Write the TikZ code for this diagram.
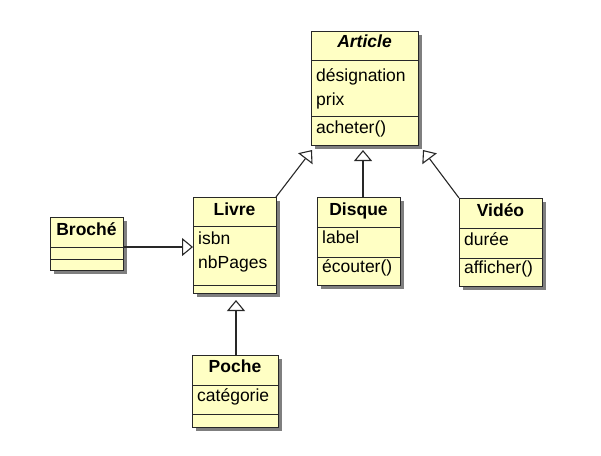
\documentclass[tikz,border=0pt]{standalone}
\usepackage{fontspec}
\setmainfont{Liberation Sans}
\usetikzlibrary{arrows.meta,shadows}
\definecolor{clsfill}{RGB}{255,255,196}
\definecolor{clsline}{RGB}{40,40,40}
\begin{document}
\begin{tikzpicture}[x=1pt,y=-1pt,
  cls/.style={draw=clsline, line width=1pt, fill=clsfill, inner sep=0pt, outer sep=0pt,
    drop shadow={shadow xshift=4pt, shadow yshift=-4pt, fill=black, opacity=0.5}},
  sep/.style={draw=clsline, line width=1pt},
  txt/.style={anchor=base west, inner sep=0pt, font=\fontsize{17.5}{20}\selectfont},
  ttl/.style={anchor=base, inner sep=0pt, font=\fontsize{17.5}{20}\selectfont\bfseries},
  inh/.style={draw=clsline, line width=1.1pt, -{Triangle[open, fill=white, length=11pt, width=18pt]}}]
\useasboundingbox (0,0) rectangle (601,455);

% Article
\node[cls, minimum width=107pt, minimum height=114pt] (article) at (364.5,88) {};
\draw[sep] (311,60) -- (418,60);
\draw[sep] (311,116) -- (418,116);
\node[ttl, font=\fontsize{17.5}{20}\selectfont\bfseries\itshape] (articleT) at (364.5,47) {Article};
\node[txt] (articleA1) at (316,81) {désignation};
\node[txt] (articleA2) at (316,105) {prix};
\node[txt] (articleM1) at (316,133) {acheter()};

% Livre
\node[cls, minimum width=83pt, minimum height=96pt] (livre) at (234.5,245) {};
\draw[sep] (193,226) -- (276,226);
\draw[sep] (193,285) -- (276,285);
\node[ttl] (livreT) at (234.5,215) {Livre};
\node[txt] (livreA1) at (198,244) {isbn};
\node[txt] (livreA2) at (198,268) {nbPages};

% Broche
\node[cls, minimum width=73pt, minimum height=53pt] (broche) at (86.5,243.5) {};
\draw[sep] (50,247) -- (123,247);
\draw[sep] (50,259) -- (123,259);
\node[ttl] (brocheT) at (86.5,235) {Broché};

% Disque
\node[cls, minimum width=83pt, minimum height=88pt] (disque) at (358.5,241) {};
\draw[sep] (317,227) -- (400,227);
\draw[sep] (317,257) -- (400,257);
\node[ttl] (disqueT) at (358.5,215) {Disque};
\node[txt] (disqueA1) at (322,243) {label};
\node[txt] (disqueM1) at (322,272) {écouter()};

% Video
\node[cls, minimum width=83pt, minimum height=88pt] (video) at (500.5,242) {};
\draw[sep] (459,228) -- (542,228);
\draw[sep] (459,258) -- (542,258);
\node[ttl] (videoT) at (500.5,216) {Vidéo};
\node[txt] (videoA1) at (464,245) {durée};
\node[txt] (videoM1) at (464,273) {afficher()};

% Poche
\node[cls, minimum width=86pt, minimum height=72pt] (poche) at (235,391) {};
\draw[sep] (192,385) -- (278,385);
\draw[sep] (192,414) -- (278,414);
\node[ttl] (pocheT) at (235,372) {Poche};
\node[txt] (pocheA1) at (197,401) {catégorie};

% connectors
\coordinate (tipL) at (312,150);
\coordinate (tipM) at (363,150);
\coordinate (tipR) at (423,150);
\coordinate (tipP) at (236,300);
\coordinate (bstart) at (123,247);
\draw[inh] (livre.north east) -- (tipL);
\draw[inh] (disque.north -| tipM) -- (tipM);
\draw[inh] (video.north west) -- (tipR);
\draw[inh] (poche.north -| tipP) -- (tipP);
\draw[inh] (bstart) -- (livre.west |- bstart);
\end{tikzpicture}
\end{document}
